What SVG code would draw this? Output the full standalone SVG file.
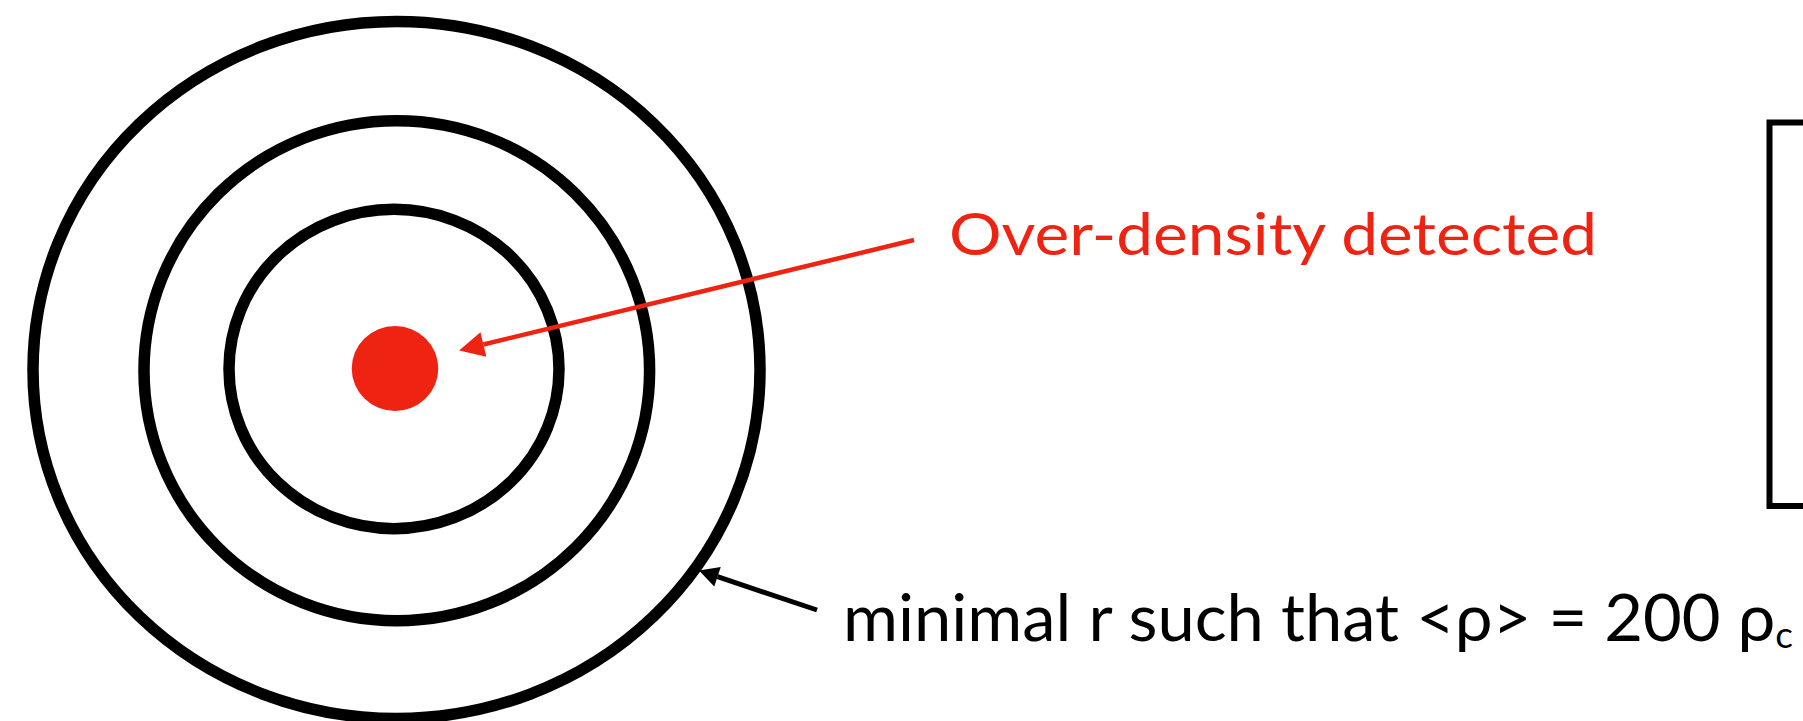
<svg xmlns="http://www.w3.org/2000/svg" width="1803" height="721" viewBox="0 0 1803 721">
<style>
.ring{fill:none;stroke:#000;stroke-width:11.5}
.red{fill:#EE2312}
.lbl{font-family:Lato,"Liberation Sans",sans-serif;font-weight:400}
</style>
<defs>
<marker id="headRed" markerUnits="userSpaceOnUse" orient="auto" refX="0" refY="0" markerWidth="30" markerHeight="30" viewBox="0 -15 30 30" overflow="visible">
<path d="M0,-12.5 L25,0 L0,12.5 z" fill="#EE2312"/>
</marker>
<marker id="headBlack" markerUnits="userSpaceOnUse" orient="auto" refX="0" refY="0" markerWidth="24" markerHeight="24" viewBox="0 -12 24 24" overflow="visible">
<path d="M0,-10.3 L19.5,0 L0,10.3 z" fill="#000"/>
</marker>
</defs>
<rect width="1803" height="721" fill="#fff"/>
<g id="outer-ring"><ellipse class="ring" cx="396.5" cy="370" rx="363.5" ry="348.5"/></g>
<g id="middle-ring"><ellipse class="ring" cx="396.8" cy="370.7" rx="252.8" ry="250"/></g>
<g id="inner-ring"><ellipse class="ring" cx="394" cy="369" rx="165" ry="159.7"/></g>
<g id="core"><ellipse class="red" cx="395" cy="368.5" rx="43.3" ry="42.5"/></g>
<g id="box"><rect x="1769.5" y="122.5" width="60" height="383.5" fill="none" stroke="#000" stroke-width="6"/></g>
<g id="label-overdensity"><text class="lbl" x="949" y="255" font-size="58" fill="#EE2312" textLength="648" lengthAdjust="spacingAndGlyphs">Over-density detected</text></g>
<g id="label-radius"><text class="lbl" x="843" y="641" font-size="65" fill="#000" textLength="950" lengthAdjust="spacingAndGlyphs">minimal r such that &lt;ρ&gt; = 200 ρ<tspan font-size="36" dy="7">c</tspan></text></g>
<g id="connectors">
<line x1="914" y1="240" x2="483.4" y2="344.5" stroke="#EE2312" stroke-width="4.5" marker-end="url(#headRed)"/>
<line x1="817" y1="610" x2="717.5" y2="576.7" stroke="#000" stroke-width="5" marker-end="url(#headBlack)"/>
</g>
</svg>
